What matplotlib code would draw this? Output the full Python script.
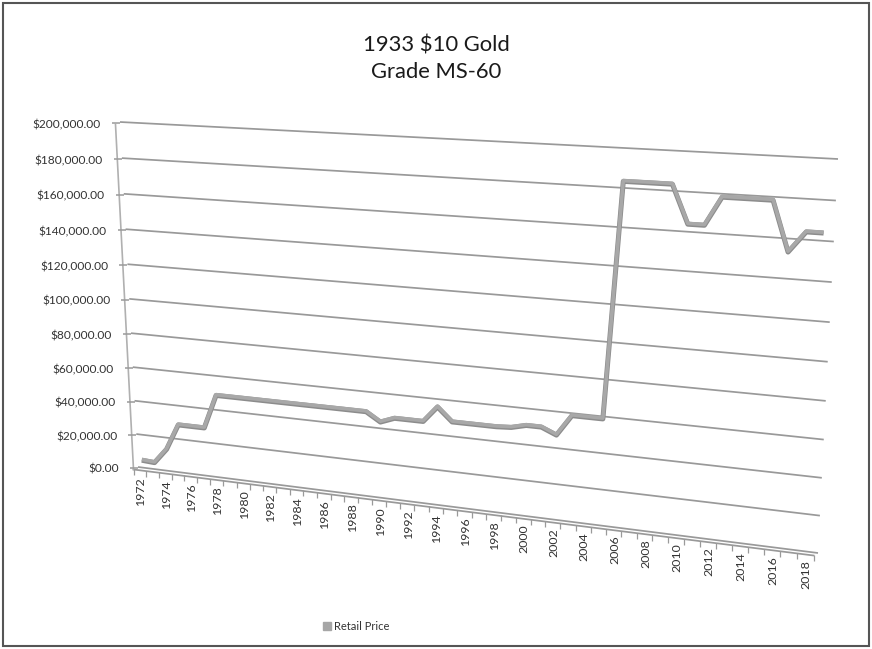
import numpy as np
import matplotlib
matplotlib.use("Agg")
import matplotlib.pyplot as plt
from matplotlib.transforms import Transform, Affine2D, ScaledTranslation
from matplotlib.lines import Line2D
from matplotlib.patches import Rectangle

# ---------------- data ----------------
years = list(range(1972, 2019))
prices = [6000, 5500, 14500, 30000, 30000, 30000,
          50000, 50000, 50000, 50000, 50000, 50000, 50000, 50000, 50000, 50000, 50000, 50000,
          45000, 48000, 48000, 48000, 57000, 49500, 49500, 49500, 49500, 50000,
          52000, 52000, 48500, 60000, 60000, 60000,
          184500, 184500, 184500, 184500, 165000, 165000,
          179500, 179500, 179500, 179500, 154500, 165000, 165000]
y_ticks = [0, 20000, 40000, 60000, 80000, 100000, 120000, 140000, 160000, 180000, 200000]
y_tick_labels = ["$%s" % format(v, ",.2f") for v in y_ticks]
x_tick_labels = [str(y) for y in years[::2]]
title_lines = ["1933 $10 Gold", "Grade MS-60"]
series_name = "Retail Price"

# ---------------- figure ----------------
W, H = 872, 649
DPI = 100
fig = plt.figure(figsize=(W / DPI, H / DPI), dpi=DPI)
ax = fig.add_axes([0, 0, 1, 1])
ax.set_xlim(0, W)
ax.set_ylim(H, 0)
ax.axis("off")

FONT = ["Lato", "DejaVu Sans"]
GRID = "#999999"
LINE = "#a8a8a8"
TXT = "#333333"


class Homography(Transform):
    input_dims = 2
    output_dims = 2
    is_separable = False
    has_inverse = False

    def __init__(self, M):
        super().__init__()
        self.M = M

    def transform_non_affine(self, values):
        v = np.asarray(values, dtype=float).reshape(-1, 2)
        p = np.c_[v, np.ones(len(v))] @ self.M.T
        return p[:, :2] / p[:, 2:3]


def square_to_quad(pts):
    # pts: pixel positions of unit-square corners (0,0),(1,0),(1,1),(0,1)
    src = [(0, 0), (1, 0), (1, 1), (0, 1)]
    A, b = [], []
    for (u, v), (x, y) in zip(src, pts):
        A.append([u, v, 1, 0, 0, 0, -u * x, -v * x]); b.append(x)
        A.append([0, 0, 0, u, v, 1, -u * y, -v * y]); b.append(y)
    h = np.linalg.solve(np.array(A, float), np.array(b, float))
    return np.array([[h[0], h[1], h[2]], [h[3], h[4], h[5]], [h[6], h[7], 1.0]])


# back wall of the 3-D chart (perspective plane)
wall_M = square_to_quad([(138, 467), (818, 553), (838, 159), (120, 122)])
x_lo, x_hi = years[0] - 0.5, years[-1] + 0.5
y_hi = y_ticks[-1]
to_unit = Affine2D().translate(-x_lo, 0).scale(1.0 / (x_hi - x_lo), 1.0 / y_hi)
wall_tr = to_unit + Homography(wall_M) + ax.transData


def shift(dx, dy):
    # offset in image pixels (dy positive = down)
    return ScaledTranslation(dx / DPI, -dy / DPI, fig.dpi_scale_trans)


front_tr = wall_tr + shift(-4.5, 2.5)
line_tr = wall_tr + shift(-2, 1.5)

# gridlines on the wall
for yt in y_ticks:
    ax.plot([x_lo, x_hi], [yt, yt], color=GRID, lw=1.25, transform=wall_tr,
            solid_capstyle="butt", zorder=1)

# floor front edge and right cap
ax.plot([x_lo, x_hi], [0, 0], color=GRID, lw=1.25, transform=front_tr, zorder=1)

# vertical axis (front edge)
ax.plot([x_lo, x_lo], [0, y_hi], color="#b0b0b0", lw=1.2, transform=front_tr, zorder=1)
ax.plot([x_lo] * len(y_ticks), y_ticks, ls="none", marker="_", ms=5.5, mew=1.1,
        color="#9a9a9a", transform=wall_tr + shift(-4, 1.0), zorder=1)
for yt, lab in zip(y_ticks, y_tick_labels):
    ax.text(x_lo, yt, lab, transform=wall_tr + shift(-19, 2.5), ha="right", va="center",
            fontsize=8.6, color=TXT, family=FONT)

# category axis ticks and labels
bounds = [y - 0.5 for y in years] + [years[-1] + 0.5]
ax.plot(bounds, [0] * len(bounds), ls="none", marker="|", ms=3.8, mew=0.9,
        color="#9a9a9a", transform=front_tr + shift(0, 2.5), zorder=1)
for yr, lab in zip(years[::2], x_tick_labels):
    ax.text(yr, 0, lab, transform=front_tr + shift(1, 5.5), ha="center", va="top",
            rotation=90, fontsize=8.9, color=TXT, family=FONT)

# the data ribbon
ax.plot(years, prices, color="#8c8c8c", lw=3.6, transform=line_tr + shift(0, 0.8),
        solid_joinstyle="round", solid_capstyle="butt", zorder=3)
ax.plot(years, prices, color=LINE, lw=2.6, transform=line_tr,
        solid_joinstyle="round", solid_capstyle="butt", zorder=4)

# title
fig.text(0.5, 1 - 45 / H, title_lines[0], ha="center", va="center", fontsize=15.8,
         color="#1a1a1a", family=FONT)
fig.text(0.5, 1 - 72 / H, title_lines[1], ha="center", va="center", fontsize=15.8,
         color="#1a1a1a", family=FONT)

# legend
handle = Line2D([], [], ls="none", marker="s", ms=6, color="#a6a6a6", label=series_name)
fig.legend(handles=[handle], loc="center", bbox_to_anchor=(356 / W, 1 - 626 / H),
           frameon=False, handlelength=0.8, handletextpad=0.2,
           labelcolor=TXT, prop={"family": FONT, "size": 8.0})

# outer chart border
fig.patches.append(Rectangle((3 / W, 3 / H), (W - 6) / W, (H - 6) / H, transform=fig.transFigure,
                             fill=False, edgecolor="#555555", lw=1.5))

fig.savefig("out.png", dpi=DPI, facecolor="white")
